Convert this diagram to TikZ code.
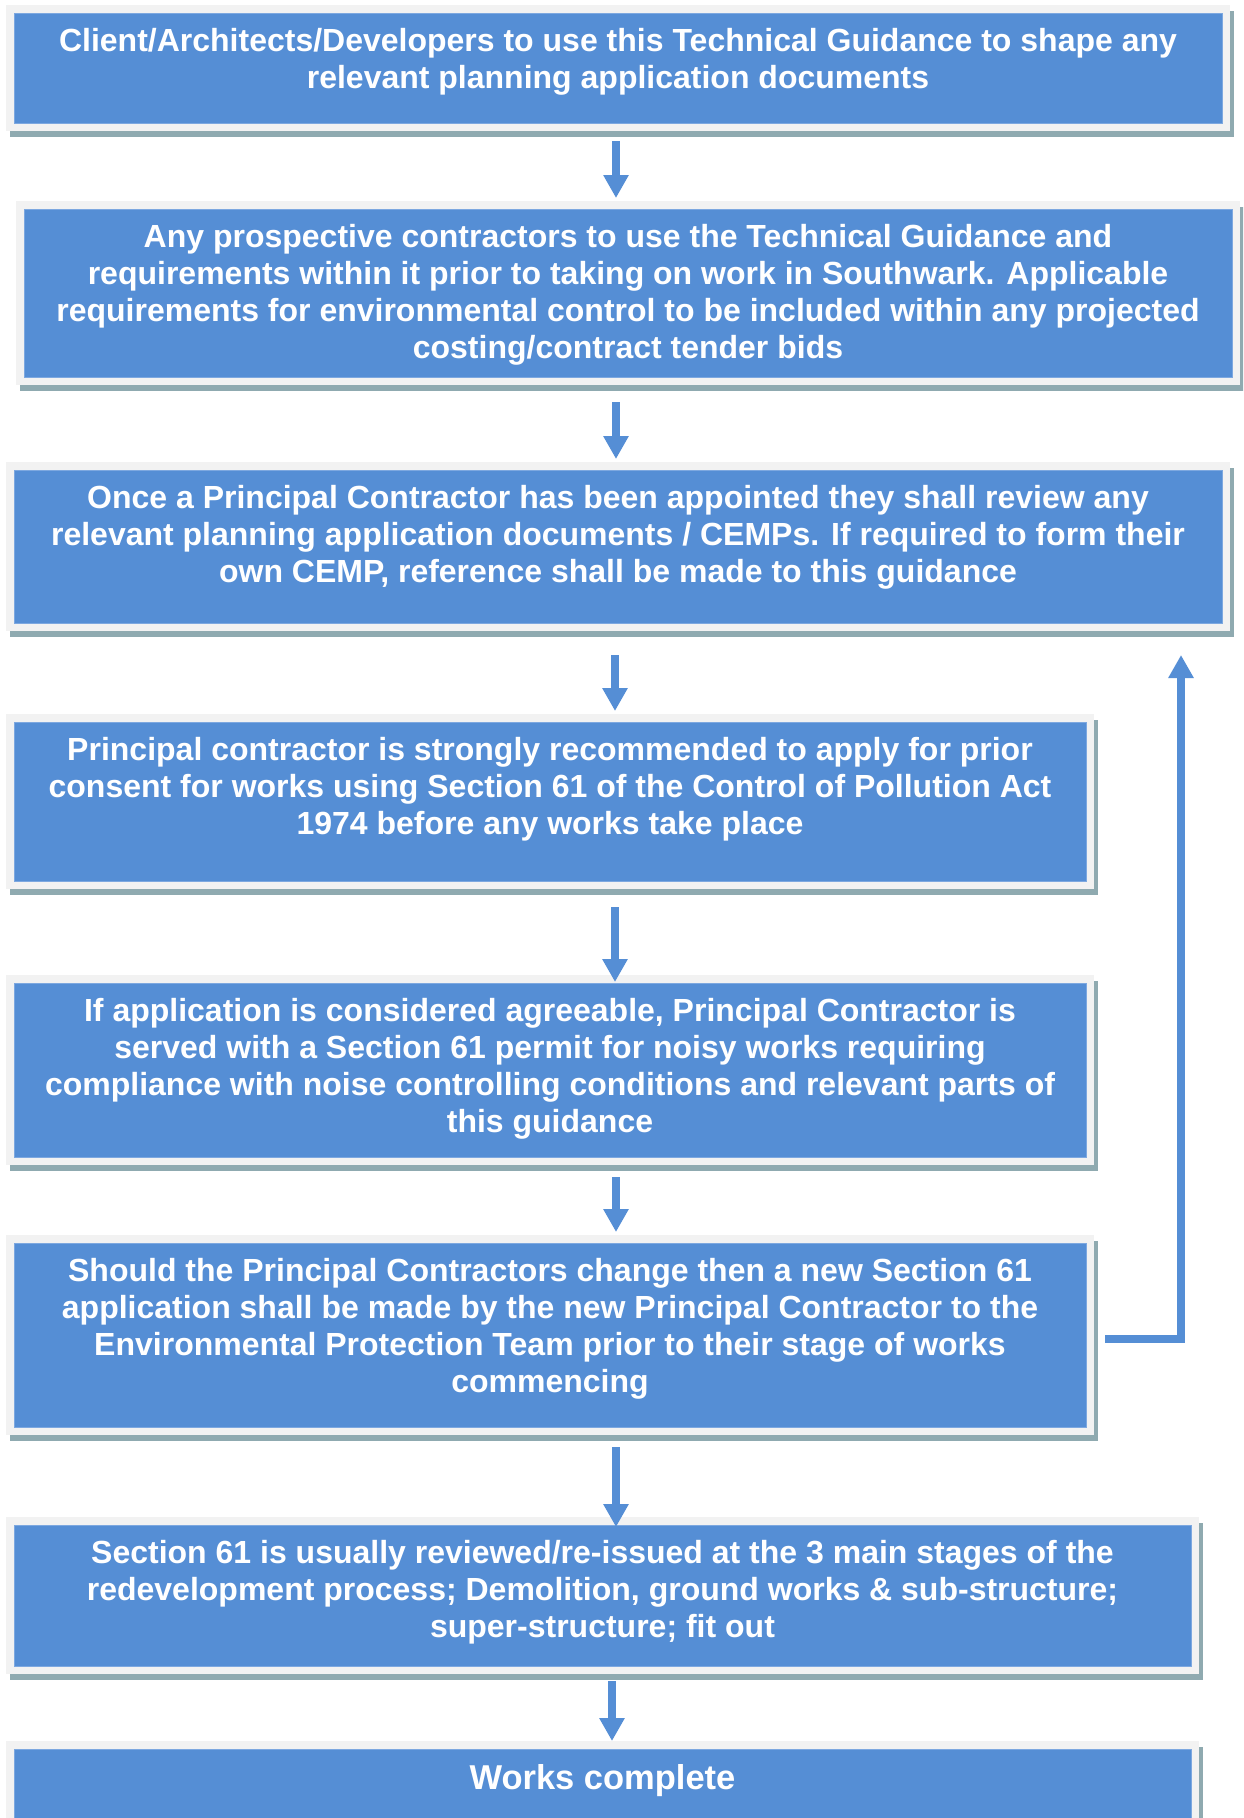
\documentclass[tikz,border=0pt]{standalone}
\usepackage{fontspec}
\setmainfont{Liberation Sans}
\usetikzlibrary{arrows.meta}
\definecolor{boxblue}{RGB}{85,142,213}
\definecolor{framegrey}{RGB}{242,242,242}
\definecolor{shadowc}{RGB}{143,170,176}
\definecolor{edgeblue}{RGB}{125,168,224}
\tikzset{
  framebox/.style={rectangle, fill=framegrey, draw=none, inner sep=0pt, outer sep=0pt},
  bluebox/.style={rectangle, fill=boxblue, draw=edgeblue, line width=1pt, inner sep=0pt, outer sep=0pt},
  boxtext/.style={text=white, align=center, inner sep=0pt, outer sep=0pt,
    font=\fontsize{32}{37}\selectfont\bfseries},
  bigtext/.style={boxtext, font=\fontsize{34.5}{39}\selectfont\bfseries},
  flowarrow/.style={draw=boxblue, line width=8pt, -{Triangle[width=24pt,length=23pt]}},
  flowline/.style={draw=boxblue, line width=8pt, line join=miter, -{Triangle[width=24pt,length=23pt]}},
}
\newcommand\flowbox[7]{%
  \path[fill=shadowc] (#2+4,#3+6) rectangle (#4+4,#5+6);
  \node[framebox, minimum width={(#4-#2)*1pt}, minimum height={(#5-#3)*1pt}] (f#1) at ({(#2+#4)/2},{(#3+#5)/2}) {};
  \node[bluebox, minimum width={(#4-#2-16)*1pt}, minimum height={(#5-#3-16)*1pt}] (b#1) at (f#1.center) {};
  \node[#7, anchor=north] (t#1) at ([yshift=-15.5pt]b#1.north) {#6};
}
\newcommand\varrow[5]{%
  \coordinate (ax#1) at (#5,0);
  \draw[flowarrow] ([yshift=-#3pt]f#1.south -| ax#1) -- ([yshift=-#4pt]f#2.north -| ax#1);
}
\begin{document}
\begin{tikzpicture}[x=1pt,y=-1pt]
\clip (0,0) rectangle (1243,1818);
\fill[white] (0,0) rectangle (1243,1818);

\flowbox{1}{6}{5}{1230}{131}{Client/Architects/Developers to use this Technical Guidance to shape any\\relevant planning application documents}{boxtext}
\flowbox{2}{16}{201}{1240}{385}{Any prospective contractors to use the Technical Guidance and\\requirements within it prior to taking on work in Southwark. Applicable\\requirements for environmental control to be included within any projected\\costing/contract tender bids}{boxtext}
\flowbox{3}{6}{462}{1230}{631}{Once a Principal Contractor has been appointed they shall review any\\relevant planning application documents / CEMPs. If required to form their\\own CEMP, reference shall be made to this guidance}{boxtext}
\flowbox{4}{6}{714}{1094}{889}{Principal contractor is strongly recommended to apply for prior\\consent for works using Section 61 of the Control of Pollution Act\\1974 before any works take place}{boxtext}
\flowbox{5}{6}{975}{1094}{1165}{If application is considered agreeable, Principal Contractor is\\served with a Section 61 permit for noisy works requiring\\compliance with noise controlling conditions and relevant parts of\\this guidance}{boxtext}
\flowbox{6}{6}{1235}{1094}{1435}{Should the Principal Contractors change then a new Section 61\\application shall be made by the new Principal Contractor to the\\Environmental Protection Team prior to their stage of works\\commencing}{boxtext}
\flowbox{7}{6}{1517}{1199}{1674}{Section 61 is usually reviewed/re-issued at the 3 main stages of the\\redevelopment process; Demolition, ground works \& sub-structure;\\super-structure; fit out}{boxtext}
\flowbox{8}{6}{1741}{1199}{1900}{Works complete}{bigtext}

\varrow{1}{2}{10}{-3}{616}
\varrow{2}{3}{17}{-3}{616}
\varrow{3}{4}{24}{-3}{615}
\varrow{4}{5}{18}{7}{615}
\varrow{5}{6}{12}{-3}{616}
\varrow{6}{7}{12}{10}{616}
\varrow{7}{8}{7}{0}{612}

\coordinate (lx) at (1181,0);
\draw[flowline] ([xshift=11pt,yshift=-4pt]f6.east) -| ([yshift=-24pt]f3.south -| lx);
\end{tikzpicture}
\end{document}
